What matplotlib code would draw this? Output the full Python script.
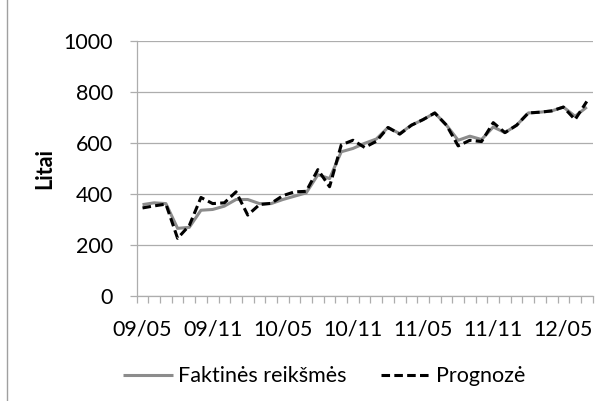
import numpy as np
import matplotlib
matplotlib.use("Agg")
import matplotlib.pyplot as plt
from matplotlib.lines import Line2D

plt.rcParams["font.family"] = ["Lato", "DejaVu Sans"]

# Monthly categories 2009-05 .. 2012-07
months = [f"{y % 100:02d}/{m:02d}" for y in range(2009, 2013) for m in range(1, 13)]
months = months[4:4 + 39]
label_every = 6

faktines = [358, 365, 362, 265, 269, 336, 339, 352, 378, 378,
            362, 362, 378, 391, 404, 475, 460, 565, 578, 598,
            615, 660, 636, 669, 691, 717, 669, 610, 626, 613,
            662, 640, 669, 717, 720, 725, 740, 704, 740]
prognoze = [345, 353, 360, 226, 276, 386, 362, 365, 408, 317,
            358, 363, 393, 408, 410, 495, 428, 592, 610, 582,
            606, 660, 634, 669, 691, 717, 669, 588, 610, 605,
            679, 640, 669, 717, 720, 725, 740, 691, 762]

grid_col = "#ADADAD"

fig = plt.figure(figsize=(5.95, 4.01), dpi=100)
ax = fig.add_axes([0.2297, 0.2618, 0.7663, 0.6367])

x = np.arange(len(months))
ax.plot(x, faktines, color="#8C8C8C", lw=2.2, solid_capstyle="butt",
        label="Faktinės reikšmės", zorder=3)
ax.plot(x, prognoze, color="black", lw=2.2, dashes=(2.8, 1.4),
        label="Prognozė", zorder=4)

ax.set_xlim(-0.5, len(months) - 0.5)
ax.set_ylim(0, 1000)
ax.set_yticks(np.arange(0, 1001, 200))
ax.yaxis.grid(True, color=grid_col, lw=0.9)
ax.set_axisbelow(True)

# tick marks between categories, labels centred on categories
ax.set_xticks(np.arange(-0.5, len(months), 1))
ax.set_xticklabels([])
ax.set_xticks(x[::label_every], minor=True)
ax.set_xticklabels(months[::label_every], minor=True)
ax.tick_params(axis="x", which="major", length=5, width=0.9, color=grid_col, direction="out")
ax.tick_params(axis="x", which="minor", length=0, pad=17, labelsize=15.5)
ax.tick_params(axis="y", length=5, width=0.9, color=grid_col, pad=12, labelsize=15.5)

for s in ["top", "right"]:
    ax.spines[s].set_visible(False)
for s in ["left", "bottom"]:
    ax.spines[s].set_color(grid_col)
    ax.spines[s].set_linewidth(0.9)

ax.set_ylabel("Litai", fontsize=15.5, fontweight="bold")
ax.yaxis.set_label_coords(-0.178, 0.5)

fig.legend(loc="center", bbox_to_anchor=(0.545, 0.062), ncol=2, frameon=False,
           fontsize=15.5, handlelength=2.3, handletextpad=0.25, columnspacing=1.6)

# left border of the chart frame
fig.add_artist(Line2D([0.012, 0.012], [0, 1], transform=fig.transFigure,
                      color="#A0A0A0", lw=1.0))

fig.savefig("out.png", dpi=100)
